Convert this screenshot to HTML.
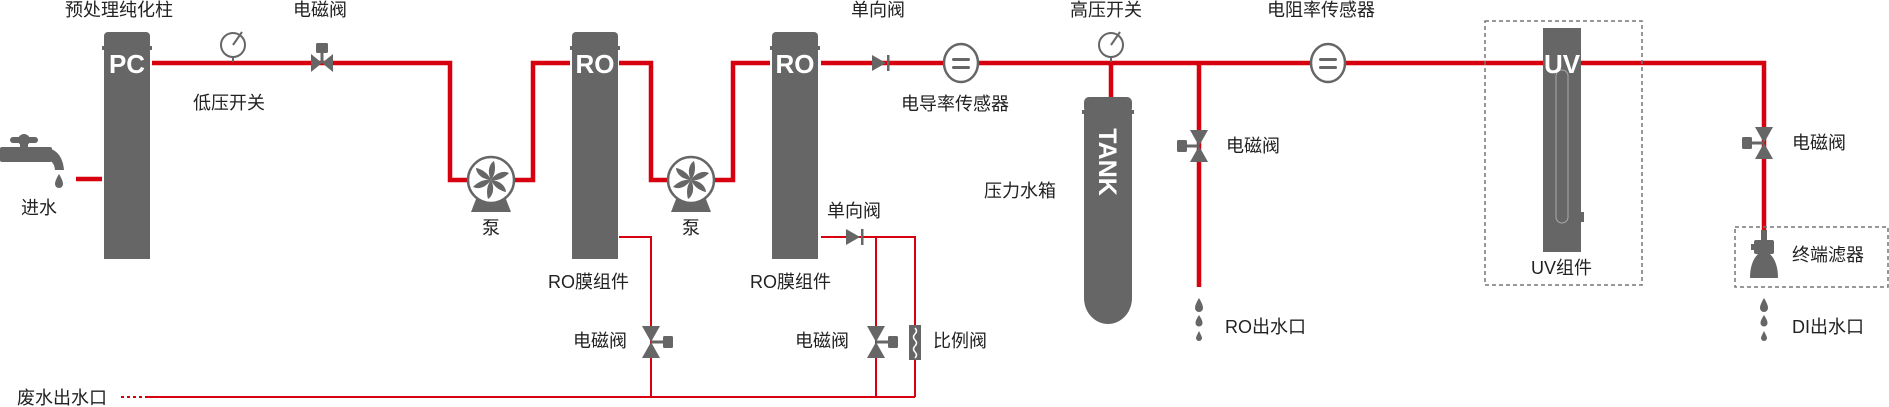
<!DOCTYPE html>
<html><head><meta charset="utf-8"><style>
html,body{margin:0;padding:0;background:#fff;}
svg{display:block;}
text{font-family:"Liberation Sans","Noto Sans CJK SC",sans-serif;font-size:18px;fill:#222;}
.w{fill:#fff;font-weight:bold;}
</style></head><body>
<svg width="1889" height="407" viewBox="0 0 1889 407" xmlns="http://www.w3.org/2000/svg">
<defs>
<g id="vh">
<polygon points="-11,-9 -11,9 0,0" fill="#666"/><polygon points="11,-9 11,9 0,0" fill="#666"/>
<rect x="-1.5" y="-12" width="3" height="12" fill="#666"/><rect x="-6" y="-20" width="12" height="10" rx="1.5" fill="#666"/>
</g>
<g id="vvL">
<polygon points="-9,-16 9,-16 0,0" fill="#666"/><polygon points="-9,16 9,16 0,0" fill="#666"/>
<rect x="-12" y="-1.5" width="12" height="3" fill="#666"/><rect x="-22" y="-6" width="10" height="12" rx="1.5" fill="#666"/>
</g>
<g id="vvR">
<polygon points="-9,-16 9,-16 0,0" fill="#666"/><polygon points="-9,16 9,16 0,0" fill="#666"/>
<rect x="0" y="-1.5" width="12" height="3" fill="#666"/><rect x="12" y="-6" width="10" height="12" rx="1.5" fill="#666"/>
</g>
<g id="gauge"><circle cx="0" cy="0" r="12" fill="#fff" stroke="#666" stroke-width="2"/><line x1="0" y1="0" x2="9" y2="-13" stroke="#666" stroke-width="2"/><line x1="0" y1="12" x2="0" y2="17" stroke="#666" stroke-width="2"/></g>
<g id="sensor"><ellipse cx="0" cy="0" rx="17" ry="19" fill="#fff" stroke="#666" stroke-width="2.5"/><rect x="-9" y="-5" width="18" height="3" rx="1.5" fill="#666"/><rect x="-9" y="3" width="18" height="3" rx="1.5" fill="#666"/></g>
<g id="pump"><polygon points="-13,14 13,14 20,32 -20,32" fill="#666"/><circle cx="0" cy="0" r="23" fill="#fff" stroke="#666" stroke-width="2.5"/>
<g fill="#666"><path d="M0,0 C-4,-8 -2,-16 3,-19 C5,-12 4,-5 0,0Z"/><path d="M0,0 C-4,-8 -2,-16 3,-19 C5,-12 4,-5 0,0Z" transform="rotate(60)"/><path d="M0,0 C-4,-8 -2,-16 3,-19 C5,-12 4,-5 0,0Z" transform="rotate(120)"/><path d="M0,0 C-4,-8 -2,-16 3,-19 C5,-12 4,-5 0,0Z" transform="rotate(180)"/><path d="M0,0 C-4,-8 -2,-16 3,-19 C5,-12 4,-5 0,0Z" transform="rotate(240)"/><path d="M0,0 C-4,-8 -2,-16 3,-19 C5,-12 4,-5 0,0Z" transform="rotate(300)"/></g></g>
<g id="col"><rect x="2" y="0" width="46" height="18" rx="4" fill="#666"/><rect x="0" y="14" width="50" height="4" fill="#666"/><rect x="2" y="18" width="46" height="209" fill="#666"/></g>
<g id="drops" fill="#666"><path d="M0,0 C3,5 4,8 4,10 A4,4 0 0 1 -4,10 C-4,8 -3,5 0,0Z"/><path d="M0,17 C2.5,21 3.5,23 3.5,25 A3.5,3.5 0 0 1 -3.5,25 C-3.5,23 -2.5,21 0,17Z"/><path d="M0,33 C2,37 3,39 3,40 A3,3 0 0 1 -3,40 C-3,39 -2,37 0,33Z"/></g>
</defs>

<g stroke="#d7000f" stroke-width="2" fill="none">
<polyline points="619,237 651,237 651,397"/>
<polyline points="821,237 915,237 915,397"/>
<line x1="876" y1="237" x2="876" y2="397"/>
<line x1="145" y1="397" x2="915" y2="397"/>
<line x1="121" y1="397" x2="145" y2="397" stroke-dasharray="3,3"/>
</g>
<g stroke="#d7000f" stroke-width="4.5" fill="none">
<line x1="76" y1="179" x2="102" y2="179"/>
<polyline points="152,63 450,63 450,180 533,180 533,63 570,63"/>
<polyline points="619,63 651,63 651,180 733,180 733,63 770,63"/>
<polyline points="821,63 1764,63 1764,230"/>
<line x1="1111" y1="63" x2="1111" y2="97"/>
<line x1="1199" y1="63" x2="1199" y2="287"/>
</g>

<g fill="#666"><rect x="0" y="147" width="52" height="15" rx="2"/><rect x="10" y="137" width="28" height="6" rx="3"/><circle cx="24" cy="140" r="6"/><rect x="20" y="140" width="8" height="10"/><path d="M40,147 Q62,147 64,170 L55,170 Q54,158 40,158Z"/><path d="M59,174 C62,179 63,182 63,184 A4,4 0 0 1 55,184 C55,182 56,179 59,174Z"/></g>

<use href="#col" x="102" y="32"/><text class="w" x="127" y="73" text-anchor="middle" style="font-size:26px">PC</text>
<use href="#col" x="570" y="32"/><text class="w" x="595" y="73" text-anchor="middle" style="font-size:26px">RO</text>
<use href="#col" x="770" y="32"/><text class="w" x="795" y="73" text-anchor="middle" style="font-size:26px">RO</text>

<use href="#gauge" x="233" y="45"/>
<use href="#gauge" x="1111" y="45"/>
<use href="#vh" x="322" y="63"/>
<use href="#pump" x="491" y="180"/>
<use href="#pump" x="691" y="180"/>
<polygon points="872,55 872,71 886,63" fill="#666"/><rect x="887" y="55" width="2.5" height="16" fill="#666"/>
<polygon points="846,229 846,245 860,237" fill="#666"/><rect x="861" y="229" width="2.5" height="16" fill="#666"/>
<use href="#vvR" x="651" y="342"/>
<use href="#vvR" x="876" y="342"/>
<rect x="909" y="325" width="12" height="35" fill="#666"/><path d="M915,328 q3,3 0,6 q-3,3 0,6 q3,3 0,6 q-3,3 0,6 q3,3 0,6" stroke="#fff" stroke-width="1.5" fill="none"/>

<use href="#sensor" x="961" y="63"/>
<use href="#sensor" x="1328" y="63"/>

<rect x="1084" y="97" width="48" height="16" rx="5" fill="#666"/><rect x="1082" y="110" width="52" height="4" fill="#666"/>
<path d="M1084,114 L1132,114 L1132,298 A24,26 0 0 1 1084,298Z" fill="#666"/>
<text class="w" transform="translate(1099,162) rotate(90)" text-anchor="middle" style="font-size:25px">TANK</text>

<use href="#vvL" x="1199" y="146"/>
<use href="#vvL" x="1764" y="143"/>
<use href="#drops" x="1199" y="298"/>
<use href="#drops" x="1764" y="298"/>

<rect x="1485" y="21" width="157" height="264" fill="none" stroke="#777" stroke-width="1.5" stroke-dasharray="4,3"/>
<rect x="1543" y="28" width="38" height="224" fill="#666"/><rect x="1581" y="212" width="3" height="10" fill="#666"/>
<rect x="1556" y="70" width="12" height="153" rx="6" fill="none" stroke="#aaa" stroke-width="1"/>
<text class="w" x="1562" y="73" text-anchor="middle" style="font-size:26px">UV</text>

<rect x="1735" y="227" width="153" height="60" fill="none" stroke="#777" stroke-width="1.5" stroke-dasharray="4,3"/>
<g fill="#666"><rect x="1761" y="230" width="6" height="10"/><rect x="1754" y="240" width="20" height="14" rx="2"/><rect x="1751" y="244" width="4" height="6"/><path d="M1758,254 L1770,254 Q1778,262 1778,278 L1750,278 Q1750,262 1758,254Z"/></g>

<text x="65" y="16">预处理纯化柱</text>
<text x="293" y="16">电磁阀</text>
<text x="193" y="109">低压开关</text>
<text x="21" y="214">进水</text>
<text x="482" y="234">泵</text>
<text x="682" y="234">泵</text>
<text x="548" y="288">RO膜组件</text>
<text x="750" y="288">RO膜组件</text>
<text x="851" y="16">单向阀</text>
<text x="827" y="217">单向阀</text>
<text x="573" y="347">电磁阀</text>
<text x="795" y="347">电磁阀</text>
<text x="933" y="347">比例阀</text>
<text x="17" y="404">废水出水口</text>
<text x="901" y="110">电导率传感器</text>
<text x="1070" y="16">高压开关</text>
<text x="984" y="197">压力水箱</text>
<text x="1267" y="16">电阻率传感器</text>
<text x="1226" y="152">电磁阀</text>
<text x="1225" y="333">RO出水口</text>
<text x="1531" y="274">UV组件</text>
<text x="1792" y="149">电磁阀</text>
<text x="1792" y="261">终端滤器</text>
<text x="1792" y="333">DI出水口</text>
</svg>
</body></html>
